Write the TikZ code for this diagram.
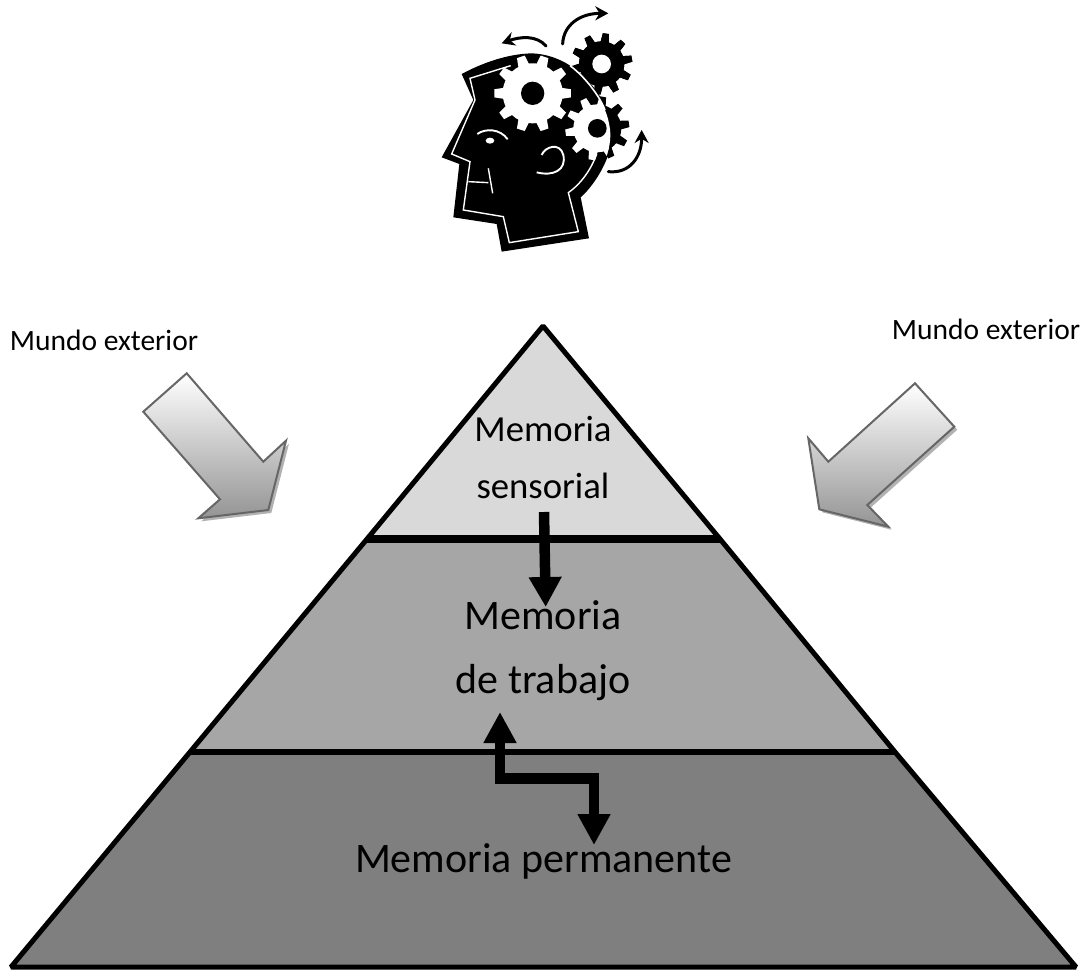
\documentclass[tikz,border=0pt]{standalone}
\usepackage{fontspec}
\setmainfont{Carlito}
\usetikzlibrary{arrows.meta}
\definecolor{tierA}{HTML}{D9D9D9}
\definecolor{tierB}{HTML}{A6A6A6}
\definecolor{tierC}{HTML}{7F7F7F}
\tikzset{
  tieredge/.style={draw=black,line width=5pt,line join=bevel},
  bigarrow/.style={draw=black!60,line width=2pt,line join=miter,top color=white,bottom color=black!42,shading angle=0},
  bigshadow/.style={fill=black!30},
  blockarrow/.style={line width=10.5pt,draw=black},
  lbl/.style={anchor=base,inner sep=0pt,text=black},
  smallarrow/.style={line width=3pt,draw=black,line cap=round,-{Stealth[length=13pt,width=14pt]}},
  whiteline/.style={draw=white,line width=1.4pt,line join=miter},
}
% gear: cx cy rinner router teeth rotation colour
\newcommand{\gearshape}[7]{%
  \fill[#7] (#1,#2) circle (#3);
  \foreach \gk in {1,...,#5}{
    \pgfmathsetmacro{\gang}{#6+360*\gk/#5}
    \pgfmathsetmacro{\gw}{0.6*3.1416*#3/#5}
    \fill[#7,shift={(#1,#2)},rotate=\gang] (#3-6,-\gw) -- (#4,-0.72*\gw) -- (#4,0.72*\gw) -- (#3-6,\gw) -- cycle;
  }
}
\begin{document}
\begin{tikzpicture}[x=1pt,y=-1pt]
\useasboundingbox (0,0) rectangle (1086,969);
\fill[white] (0,0) rectangle (1086,969);

% head, in crop units
\begin{scope}[shift={(420,0)},x=0.3333pt,y=-0.3333pt]
  \def\headpath{(125,222) -- (160,300) -- (65,472) -- (118,492) -- (100,652) -- (230,672) -- (245,755) -- (507,715) -- (482,592) .. controls (530,550) and (590,450) .. (574,375) .. controls (560,290) and (470,165) .. (335,160) .. controls (260,162) and (185,190) .. (125,222) -- cycle}
  \gearshape{545}{192}{68}{92}{10}{10}{black}
  \fill[white,draw=white,line width=4pt] \headpath;
  \gearshape{545}{192}{68}{92}{10}{10}{black}
  \gearshape{532}{385}{72}{96}{10}{8}{black}
  \fill[white] (545,192) circle (28);
  \fill[black] \headpath;
  \begin{scope}
    \clip (125,222) -- (160,300) -- (65,472) -- (118,492) -- (100,652) -- (230,672) -- (245,755) -- (507,715) -- (482,592) .. controls (530,550) and (585,450) .. (568,375) .. controls (555,295) and (470,165) .. (335,160) .. controls (260,162) and (185,190) .. (125,222) -- cycle;
    \gearshape{338}{280}{90}{115}{10}{0}{white}
    \gearshape{532}{385}{72}{96}{10}{8}{white}
  \end{scope}
  \fill[black] (338,280) circle (35);
  \fill[black] (532,385) circle (28);
  \draw[white,line width=1.6pt] (450,197) .. controls (495,230) and (540,290) .. (555,330);
  \draw[whiteline] (272,197) -- (150,235) -- (165,300) -- (95,462) -- (150,485) -- (130,630) -- (250,650) -- (268,728) -- (475,695) -- (445,578) .. controls (485,550) and (515,505) .. (530,462);
  \draw[whiteline] (205,505) -- (218,580);
  \draw[whiteline] (145,545) -- (205,548);
  \draw[white,line width=1.9pt] (172,402) .. controls (195,385) and (240,385) .. (263,418);
  \fill[white] (210,422) ellipse (13 and 9);
  \draw[white,line width=1.9pt] (365,465) .. controls (375,440) and (420,425) .. (430,465) .. controls (440,510) and (400,530) .. (350,517);
  \draw[smallarrow] (378,138) .. controls (350,105) and (300,110) .. (245,130);
  \draw[smallarrow] (428,132) .. controls (430,75) and (480,40) .. (565,40);
  \draw[smallarrow] (565,515) .. controls (630,522) and (665,470) .. (665,390);
\end{scope}

% pyramid
\coordinate (apex) at (543,326);
\coordinate (tl) at (367,539);
\coordinate (tr) at (720,539);
\coordinate (ml) at (190,752);
\coordinate (mr) at (895,752);
\coordinate (bl) at (11,967);
\coordinate (br) at (1076,967);
\draw[tieredge,fill=tierC] (ml) -- (mr) -- (br) -- (bl) -- cycle;
\draw[tieredge,fill=tierB] (tl) -- (tr) -- (mr) -- (ml) -- cycle;
\draw[tieredge,fill=tierA] (apex) -- (tr) -- (tl) -- cycle;
\draw[line width=8.5pt] (tl) -- (tr);
\draw[line width=5.5pt] (ml) -- (mr);

% big arrows
\fill[bigshadow] (189.7,376.3) -- (266.3,464.7) -- (289,443.7) -- (271.3,513) -- (201.3,521.3) -- (223,502.3) -- (146.3,414.7) -- cycle;
\draw[bigarrow] (186.7,373.3) -- (263.3,461.7) -- (286,440.7) -- (268.3,510) -- (198.3,518.3) -- (220,499.3) -- (143.3,411.7) -- cycle;
\fill[bigshadow] (918,386.3) -- (957.3,429.7) -- (870.3,508) -- (891.3,529.7) -- (822.3,512.3) -- (811.3,441.3) -- (831.3,464.7) -- cycle;
\draw[bigarrow] (915,383.3) -- (954.3,426.7) -- (867.3,505) -- (888.3,526.7) -- (819.3,509.3) -- (808.3,438.3) -- (828.3,461.7) -- cycle;

% labels
\node[lbl,font=\fontsize{29.5}{34}\selectfont] (ml1) at (104,350) {Mundo exterior};
\node[lbl,font=\fontsize{29.5}{34}\selectfont] (ml2) at (986,339) {Mundo exterior};
\node[lbl,font=\fontsize{36.7}{44}\selectfont] (s1) at (543,441) {Memoria};
\node[lbl,font=\fontsize{36.7}{44}\selectfont] (s2) at (543,498) {sensorial};
\node[lbl,font=\fontsize{42}{48}\selectfont] (w1) at (543,629) {Memoria};
\node[lbl,font=\fontsize{42}{48}\selectfont] (w2) at (543,693) {de trabajo};
\node[lbl,font=\fontsize{42}{48}\selectfont] (p1) at (543.5,872) {Memoria permanente};

% connectors
\coordinate (a1) at (544,512);
\coordinate (a2) at (545.7,607);
\draw[blockarrow,-{Triangle[length=30pt,width=31pt]}] (a1) -- (a2);
\coordinate (b1) at (500,712);
\coordinate (b2) at (500,778.5);
\coordinate (b3) at (594,778.5);
\coordinate (b4) at (594,845);
\draw[blockarrow,line join=miter,{Triangle[length=31pt,width=31pt]}-{Triangle[length=31pt,width=31pt]}] (b1) -- (b2) -- (b3) -- (b4);
\end{tikzpicture}
\end{document}
